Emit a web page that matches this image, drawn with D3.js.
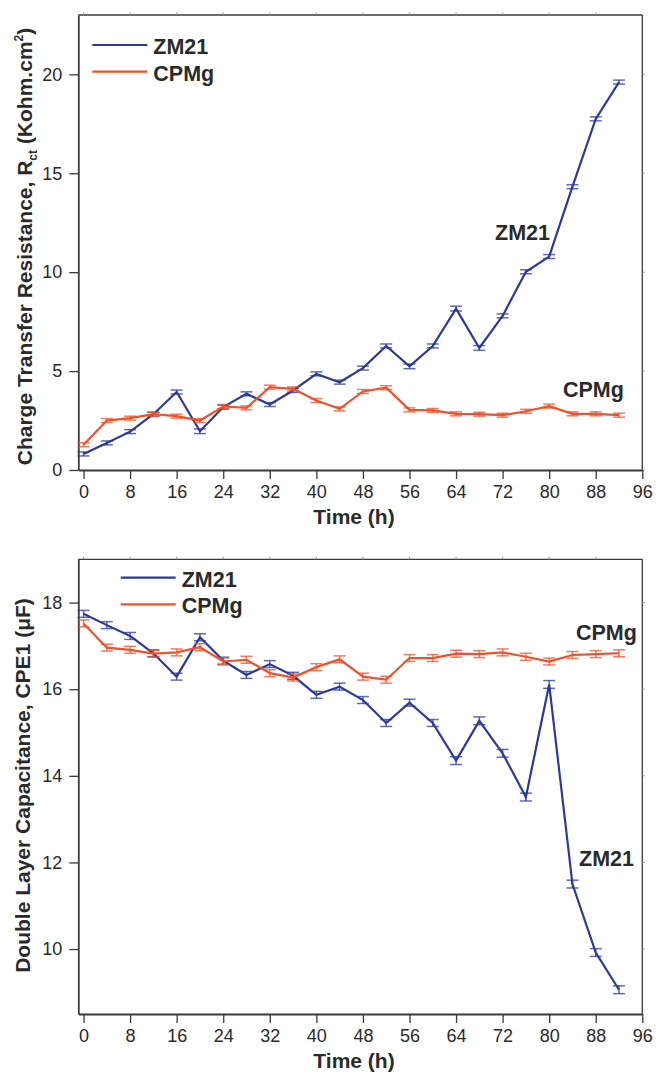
<!DOCTYPE html>
<html>
<head>
<meta charset="utf-8">
<script src="https://cdn.jsdelivr.net/npm/d3@7"></script>
<style>
  html, body { margin: 0; padding: 0; background: #fff; }
  svg { display: block; font-family: "Liberation Sans", Arial, sans-serif; }
</style>
</head>
<body>
<svg id="chart" width="656" height="1075"></svg>
<script>
// ---------------- DATA ----------------
const hours = [0, 4, 8, 12, 16, 20, 24, 28, 32, 36, 40, 44, 48, 52, 56, 60, 64, 68, 72, 76, 80, 84, 88, 92];
const xTicks = [0, 8, 16, 24, 32, 40, 48, 56, 64, 72, 80, 88, 96];

// Charge transfer resistance Rct (Kohm.cm2)
const rctZM21 = [0.81, 1.37, 1.94, 2.82, 3.94, 1.96, 3.18, 3.85, 3.31, 4.02, 4.86, 4.44, 5.15, 6.27, 5.24, 6.27, 8.16, 6.17, 7.79, 10.02, 10.79, 14.32, 17.75, 19.61];
const rctZM21Err = [0.1, 0.1, 0.1, 0.1, 0.1, 0.12, 0.1, 0.1, 0.1, 0.1, 0.1, 0.1, 0.1, 0.1, 0.12, 0.1, 0.12, 0.12, 0.1, 0.1, 0.1, 0.1, 0.1, 0.1];
const rctCPMg = [1.28, 2.5, 2.62, 2.82, 2.72, 2.5, 3.21, 3.14, 4.19, 4.1, 3.51, 3.09, 3.97, 4.16, 3.04, 3.01, 2.84, 2.82, 2.77, 2.97, 3.23, 2.84, 2.84, 2.77];
const rctCPMgErr = [0.1, 0.1, 0.1, 0.1, 0.1, 0.1, 0.1, 0.1, 0.1, 0.1, 0.1, 0.1, 0.1, 0.1, 0.1, 0.1, 0.1, 0.1, 0.1, 0.1, 0.1, 0.1, 0.1, 0.1];
const rctTicks = [0, 5, 10, 15, 20];

// Double layer capacitance CPE1 (uF)
const cpeZM21 = [17.74, 17.48, 17.23, 16.83, 16.29, 17.2, 16.66, 16.33, 16.58, 16.31, 15.87, 16.06, 15.75, 15.22, 15.69, 15.22, 14.35, 15.27, 14.52, 13.51, 16.11, 11.5, 9.92, 9.06];
const cpeZM21Err = [0.08, 0.08, 0.08, 0.08, 0.08, 0.08, 0.08, 0.08, 0.08, 0.08, 0.08, 0.08, 0.08, 0.08, 0.08, 0.08, 0.09, 0.09, 0.09, 0.09, 0.09, 0.09, 0.09, 0.09];
const cpeCPMg = [17.52, 16.96, 16.91, 16.82, 16.85, 16.97, 16.64, 16.68, 16.37, 16.27, 16.51, 16.69, 16.29, 16.22, 16.72, 16.72, 16.82, 16.81, 16.85, 16.75, 16.64, 16.79, 16.81, 16.83];
const cpeCPMgErr = [0.08, 0.08, 0.08, 0.08, 0.08, 0.08, 0.08, 0.08, 0.08, 0.08, 0.08, 0.08, 0.08, 0.08, 0.08, 0.08, 0.08, 0.08, 0.08, 0.08, 0.08, 0.08, 0.08, 0.08];
const cpeTicks = [10, 12, 14, 16, 18];

const seriesNames = ["ZM21", "CPMg"];
const colors = { ZM21: "#2b3a98", CPMg: "#f0502a" };

// ---------------- DRAW ----------------
const svg = d3.select("#chart");
const axisColor = "#3a3a3a";
const textColor = "#2a2a2a";

function panel(cfg) {
  const g = svg.append("g");
  const x = d3.scaleLinear().domain([-0.9, 96]).range([cfg.left, cfg.right]);
  const y = d3.scaleLinear().domain(cfg.yDomain).range([cfg.bottom, cfg.top]);

  // frame (top & right thin lines with tiny ticks)
  g.append("line").attr("x1", cfg.left).attr("x2", cfg.right).attr("y1", cfg.top).attr("y2", cfg.top)
    .attr("stroke", axisColor).attr("stroke-width", 1.3);
  g.append("line").attr("x1", cfg.right).attr("x2", cfg.right).attr("y1", cfg.top).attr("y2", cfg.bottom)
    .attr("stroke", axisColor).attr("stroke-width", 1.3);
  g.append("g").selectAll("line").data(xTicks.slice(0, -1)).join("line")
    .attr("x1", d => x(d)).attr("x2", d => x(d)).attr("y1", cfg.top).attr("y2", cfg.top - 2.5)
    .attr("stroke", "#999").attr("stroke-width", 1);
  g.append("g").selectAll("line").data(cfg.yTicks).join("line")
    .attr("x1", cfg.right).attr("x2", cfg.right + 2.5).attr("y1", d => y(d)).attr("y2", d => y(d))
    .attr("stroke", "#999").attr("stroke-width", 1);

  // bottom axis
  const xa = g.append("g").attr("transform", `translate(0,${cfg.bottom})`)
    .call(d3.axisBottom(x).tickValues(xTicks).tickSize(9).tickPadding(6).tickSizeOuter(0));
  xa.select(".domain").attr("stroke", axisColor).attr("stroke-width", 1.8);
  xa.selectAll(".tick line").attr("stroke", axisColor).attr("stroke-width", 1.3);
  xa.selectAll(".tick text").attr("fill", textColor).style("font-size", "18px");

  // left axis
  const ya = g.append("g").attr("transform", `translate(${cfg.left},0)`)
    .call(d3.axisLeft(y).tickValues(cfg.yTicks).tickSize(9).tickPadding(7).tickSizeOuter(0));
  ya.select(".domain").attr("stroke", axisColor).attr("stroke-width", 1.8);
  ya.selectAll(".tick line").attr("stroke", axisColor).attr("stroke-width", 1.3);
  ya.selectAll(".tick text").attr("fill", textColor).style("font-size", "18px");

  // series
  cfg.series.forEach(s => {
    const pts = hours.map((h, i) => ({ h, v: s.values[i], e: s.errors[i] }));
    const sg = g.append("g");
    const eb = sg.append("g").attr("stroke", colors[s.name]).attr("stroke-opacity", 0.75).attr("stroke-width", 1.5);
    eb.selectAll("line.v").data(pts).join("line").attr("class", "v")
      .attr("x1", d => x(d.h)).attr("x2", d => x(d.h))
      .attr("y1", d => y(d.v - d.e)).attr("y2", d => y(d.v + d.e));
    eb.selectAll("line.t").data(pts).join("line").attr("class", "t")
      .attr("x1", d => x(d.h) - 6).attr("x2", d => x(d.h) + 6)
      .attr("y1", d => y(d.v + d.e)).attr("y2", d => y(d.v + d.e));
    eb.selectAll("line.b").data(pts).join("line").attr("class", "b")
      .attr("x1", d => x(d.h) - 6).attr("x2", d => x(d.h) + 6)
      .attr("y1", d => y(d.v - d.e)).attr("y2", d => y(d.v - d.e));
    sg.append("path").datum(pts)
      .attr("fill", "none").attr("stroke", colors[s.name]).attr("stroke-width", 2.2)
      .attr("stroke-linejoin", "miter")
      .attr("d", d3.line().x(d => x(d.h)).y(d => y(d.v)));
  });

  // legend
  seriesNames.forEach((n, i) => {
    const ly = cfg.legendY + i * 26.7;
    g.append("line").attr("x1", cfg.legendX).attr("x2", cfg.legendX + 55)
      .attr("y1", ly).attr("y2", ly).attr("stroke", colors[n]).attr("stroke-width", 2.2);
    g.append("text").attr("x", cfg.legendX + 61).attr("y", ly + 8.8)
      .attr("fill", textColor).style("font-size", "21.5px").style("font-weight", "bold").text(n);
  });

  // annotations
  cfg.labels.forEach(l => {
    g.append("text").attr("x", l.x).attr("y", l.y).attr("fill", textColor)
      .style("font-size", "21.5px").style("font-weight", "bold").text(l.text);
  });

  // x title
  g.append("text").attr("x", 354).attr("y", cfg.bottom + 53.5).attr("text-anchor", "middle")
    .attr("fill", textColor).style("font-size", "21px").style("font-weight", "bold").text("Time (h)");

  return { g, x, y };
}

// Top panel
const topPanel = panel({
  left: 78.3, right: 642.3, top: 15, bottom: 470,
  yDomain: [0, 23], yTicks: rctTicks,
  series: [
    { name: "ZM21", values: rctZM21, errors: rctZM21Err },
    { name: "CPMg", values: rctCPMg, errors: rctCPMgErr }
  ],
  legendX: 92.3, legendY: 45,
  labels: [{ text: "ZM21", x: 495, y: 240 }, { text: "CPMg", x: 563, y: 397 }]
});
// Top y title with subscript / superscript
{
  const t = topPanel.g.append("text")
    .attr("transform", "translate(31.5,246.5) rotate(-90)")
    .attr("text-anchor", "middle").attr("fill", textColor)
    .style("font-size", "21px").style("font-weight", "bold");
  t.append("tspan").text("Charge Transfer Resistance, R");
  t.append("tspan").attr("dy", 5).style("font-size", "12px").text("ct");
  t.append("tspan").attr("dy", -5).text(" (Kohm.cm");
  t.append("tspan").attr("dy", -9).style("font-size", "12px").text("2");
  t.append("tspan").attr("dy", 9).text(")");
}

// Bottom panel
const bottomPanel = panel({
  left: 78.3, right: 642.3, top: 559.3, bottom: 1014,
  yDomain: [8.5, 19], yTicks: cpeTicks,
  series: [
    { name: "ZM21", values: cpeZM21, errors: cpeZM21Err },
    { name: "CPMg", values: cpeCPMg, errors: cpeCPMgErr }
  ],
  legendX: 120.7, legendY: 577.7,
  labels: [{ text: "CPMg", x: 576, y: 640 }, { text: "ZM21", x: 579, y: 866 }]
});
bottomPanel.g.append("text")
  .attr("transform", "translate(29.5,785.5) rotate(-90)")
  .attr("text-anchor", "middle").attr("fill", textColor)
  .style("font-size", "21px").style("font-weight", "bold")
  .text("Double Layer Capacitance, CPE1 (\u03BCF)");
</script>
</body>
</html>
